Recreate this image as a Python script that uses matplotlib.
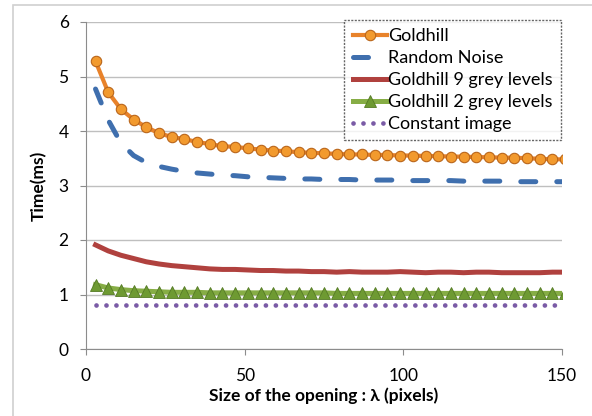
import matplotlib.pyplot as plt
from matplotlib.patches import Rectangle

plt.rcParams['font.family'] = ['Lato', 'DejaVu Sans']

# opening sizes (pixels)
x = list(range(3, 152, 4))

goldhill = [5.28, 4.71, 4.40, 4.21, 4.07, 3.96, 3.89, 3.85, 3.80, 3.76,
            3.72, 3.71, 3.68, 3.66, 3.64, 3.63, 3.61, 3.60, 3.59, 3.58,
            3.57, 3.57, 3.56, 3.56, 3.55, 3.55, 3.54, 3.54, 3.53, 3.53,
            3.52, 3.52, 3.51, 3.51, 3.50, 3.49, 3.48, 3.48]
noise = [4.77, 4.20, 3.78, 3.55, 3.42, 3.35, 3.30, 3.26, 3.23, 3.21,
         3.19, 3.18, 3.16, 3.15, 3.14, 3.13, 3.12, 3.12, 3.11, 3.11,
         3.11, 3.10, 3.10, 3.10, 3.10, 3.09, 3.09, 3.09, 3.09, 3.08,
         3.08, 3.08, 3.08, 3.07, 3.07, 3.07, 3.07, 3.07]
grey9 = [1.91, 1.80, 1.72, 1.66, 1.60, 1.56, 1.53, 1.51, 1.49, 1.47,
         1.46, 1.46, 1.45, 1.44, 1.44, 1.43, 1.43, 1.42, 1.42, 1.41,
         1.42, 1.41, 1.41, 1.41, 1.42, 1.41, 1.40, 1.41, 1.41, 1.40,
         1.41, 1.41, 1.40, 1.40, 1.40, 1.40, 1.41, 1.41]
grey2 = [1.18, 1.12, 1.09, 1.07, 1.06, 1.05, 1.04, 1.04, 1.04, 1.03,
         1.03, 1.03, 1.03, 1.03, 1.03, 1.03, 1.03, 1.03, 1.03, 1.02,
         1.02, 1.02, 1.02, 1.02, 1.02, 1.02, 1.02, 1.02, 1.02, 1.02,
         1.02, 1.02, 1.02, 1.02, 1.02, 1.02, 1.02, 1.02]
constant = [0.80] * len(x)

fig = plt.figure(figsize=(5.92, 4.16), dpi=100)
fig.patches.append(Rectangle((13 / 592, -0.1), 1.2, 1 - 5 / 416 + 0.1,
                             transform=fig.transFigure, fill=False,
                             edgecolor='#D0D0D0', lw=1.2))
ax = fig.add_axes([86 / 592, 1 - 349 / 416, 476 / 592, 327 / 416])

ax.plot(x, goldhill, color='#E8822A', lw=3, marker='o', ms=7.5,
        mfc='#F29A2E', mec='#B9651A', mew=0.8, label='Goldhill', zorder=5)
ax.plot(x, noise, color='#3F6FAE', lw=3.6, dashes=(3.0, 4.2),
        dash_capstyle='round', label='Random Noise', zorder=4)
ax.plot(x, grey9, color='#B0413E', lw=3.6, label='Goldhill 9 grey levels', zorder=4)
ax.plot(x, grey2, color='#86AD45', lw=3.6, marker='^', ms=8,
        mfc='#6E9A32', mec='#557A25', mew=0.6, label='Goldhill 2 grey levels', zorder=4)
ax.plot(x, constant, color='#7A5BA6', lw=3.4, dashes=(0.01, 2.1),
        dash_capstyle='round', label='Constant image', zorder=3)

ax.set_xlim(0, 150)
ax.set_ylim(0, 6)
ax.set_xticks([0, 50, 100, 150])
ax.set_yticks(range(7))
ax.grid(axis='y', color='#BFBFBF', lw=1)
ax.set_axisbelow(True)
for s in ['top', 'right']:
    ax.spines[s].set_visible(False)
for s in ['left', 'bottom']:
    ax.spines[s].set_color('#8C8C8C')
ax.tick_params(colors='#8C8C8C', length=4.5, labelcolor='black', labelsize=12.5)
ax.tick_params(axis='y', pad=8)
ax.tick_params(axis='x', pad=9)

ax.set_xlabel('Size of the opening : λ (pixels)', fontsize=12.5, fontweight='bold',
              labelpad=3)
ax.set_ylabel('Time(ms)', fontsize=12.5, fontweight='bold', labelpad=8)

leg = ax.legend(loc='upper right', bbox_to_anchor=(0.997, 1.006), fontsize=13,
                frameon=True, fancybox=False, handlelength=1.9, handletextpad=0.05,
                borderpad=0.45, labelspacing=0.33, borderaxespad=0)
leg.get_frame().set_edgecolor('#404040')
leg.get_frame().set_linestyle((0, (1.5, 1)))
leg.get_frame().set_linewidth(1)
leg.set_zorder(10)

fig.savefig('out.png', dpi=100)
